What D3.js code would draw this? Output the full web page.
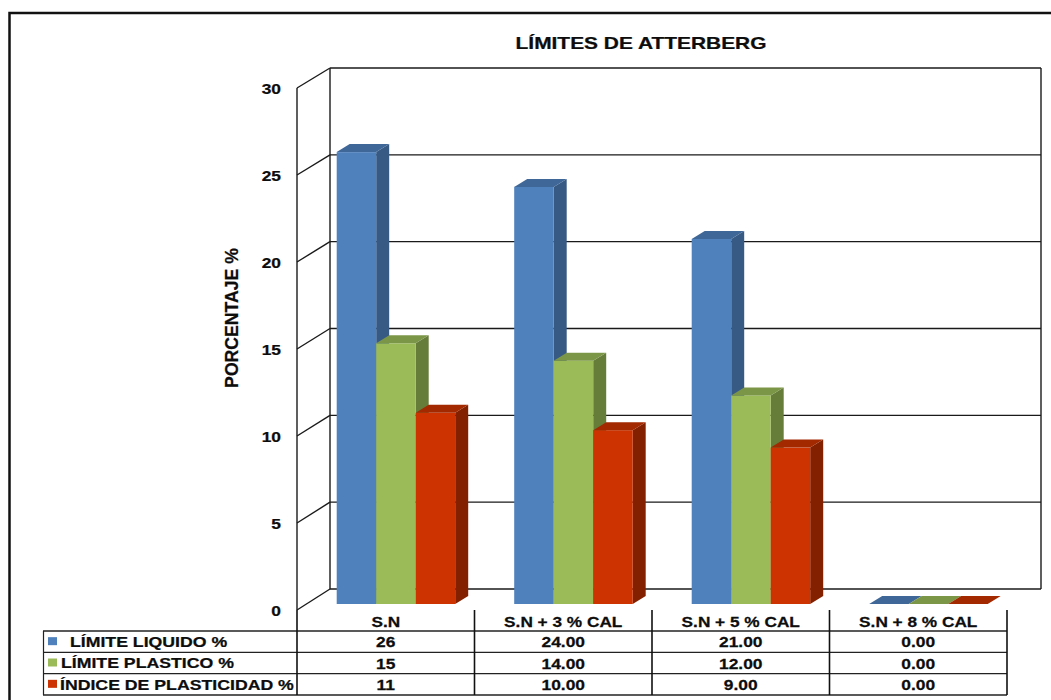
<!DOCTYPE html>
<html>
<head>
<meta charset="utf-8">
<script src="https://cdn.jsdelivr.net/npm/d3@7"></script>
<style>
html,body{margin:0;padding:0;background:#fff;overflow:hidden}
svg{display:block}
text{font-family:"Liberation Sans",Arial,sans-serif;font-weight:bold;fill:#0d0d0d;stroke:#0d0d0d;stroke-width:0.25px}
</style>
</head>
<body>
<svg id="chart" width="1051" height="700"></svg>
<script>
const categories = ["S.N", "S.N + 3 % CAL", "S.N + 5 % CAL", "S.N + 8 % CAL"];
const seriesNames = ["LÍMITE LIQUIDO %", "LÍMITE PLASTICO %", "ÍNDICE DE PLASTICIDAD %"];
const limiteLiquido = [26, 24, 21, 0];
const limitePlastico = [15, 14, 12, 0];
const indicePlasticidad = [11, 10, 9, 0];
const tableText = [
  ["26", "24.00", "21.00", "0.00"],
  ["15", "14.00", "12.00", "0.00"],
  ["11", "10.00", "9.00", "0.00"]
];
const yTicks = [0, 5, 10, 15, 20, 25, 30];
const seriesValues = [limiteLiquido, limitePlastico, indicePlasticidad];

const frontColors = ["#4f81bd", "#9bbb59", "#cc3300"];
const topColors = ["#3f6797", "#7c9647", "#a32900"];
const sideColors = ["#375a85", "#667d3a", "#822000"];

const svg = d3.select("#chart");

// Three parallel value scales: front edge of the side wall, back wall, bar fronts
const yFront = d3.scaleLinear().domain([0, 30]).range([610, 88]);
const yBack = d3.scaleLinear().domain([0, 30]).range([589, 68]);
const yBar = d3.scaleLinear().domain([0, 30]).range([604, 82.6]);

const x0 = d3.scaleBand().domain(categories).range([297, 1007]);
const x1 = d3.scaleBand().domain(d3.range(3)).range([39.7, 158.2]);

const wallLeft = 330, wallRight = 1041, frontLeft = 297;
const barDx = 13, barDy = -8;
const ink = "#1a1a1a";

// The lettering on this chart is set wide, so text is stretched horizontally around its anchor
function wideText(parent, x, y, str, size, stretch, anchor) {
  return parent.append("text")
    .attr("transform", `translate(${x},${y}) scale(${stretch},1)`)
    .attr("text-anchor", anchor || "start")
    .attr("font-size", size)
    .text(str);
}

// Outer frame (open at the bottom and on the right)
svg.append("path").attr("d", "M9.5,700V13H1051").attr("fill", "none")
  .attr("stroke", "#111").attr("stroke-width", 2.5);

wideText(svg, 641, 49, "LÍMITES DE ATTERBERG", 16.6, 1.26, "middle");

// Back wall and side wall
const walls = svg.append("g").attr("fill", "none").attr("stroke", ink).attr("stroke-width", 1.4);
walls.selectAll("line.grid").data(yTicks).join("line").attr("class", "grid")
  .attr("x1", wallLeft).attr("x2", wallRight)
  .attr("y1", d => yBack(d)).attr("y2", d => yBack(d));
walls.selectAll("line.diag").data(yTicks).join("line").attr("class", "diag")
  .attr("x1", frontLeft).attr("x2", wallLeft)
  .attr("y1", d => yFront(d)).attr("y2", d => yBack(d));
walls.append("line").attr("x1", frontLeft).attr("x2", frontLeft).attr("y1", yFront(30)).attr("y2", yFront(0));
walls.append("line").attr("x1", wallLeft).attr("x2", wallLeft).attr("y1", yBack(30)).attr("y2", yBack(0));
walls.append("line").attr("x1", wallRight).attr("x2", wallRight).attr("y1", yBack(30)).attr("y2", yBack(0));

// Value axis labels
yTicks.forEach(t => wideText(svg, 281, yFront(t) + 5.5, String(t), 15.5, 1.12, "end"));

svg.append("text").attr("transform", "translate(237.5,318) rotate(-90) scale(0.97,1)")
  .attr("text-anchor", "middle").attr("font-size", 18.2).text("PORCENTAJE %");

// Bars, drawn left to right so each box overlaps the side of the previous one
const bars = svg.append("g");
categories.forEach((cat, c) => {
  seriesValues.forEach((vals, s) => {
    const l = x0(cat) + x1(s), r = l + x1.bandwidth();
    const top = yBar(vals[c]), base = yBar(0);
    const g = bars.append("g");
    if (vals[c] > 0) {
      g.append("path").attr("fill", sideColors[s])
        .attr("d", `M${r},${top}L${r + barDx},${top + barDy}V${base + barDy}L${r},${base}Z`);
      g.append("rect").attr("fill", frontColors[s])
        .attr("x", l).attr("y", top).attr("width", r - l).attr("height", base - top);
    }
    g.append("path").attr("fill", topColors[s])
      .attr("d", `M${l},${top}L${l + barDx},${top + barDy}H${r + barDx}L${r},${top}Z`);
  });
});

// Data table under the plot
const rowY = d3.scaleBand().domain(d3.range(3)).range([631, 695]);
const tableLeft = 43;
const colEdges = categories.map(c => x0(c)).concat([x0.range()[1]]);
const labelX = [70, 61, 60];
const colCentre = i => x0(categories[i]) + x0.bandwidth() / 2;

const table = svg.append("g");
table.selectAll("line.row").data(d3.range(4)).join("line").attr("class", "row")
  .attr("x1", tableLeft).attr("x2", 1007)
  .attr("y1", d => 631 + d * rowY.bandwidth()).attr("y2", d => 631 + d * rowY.bandwidth())
  .attr("stroke", "#222").attr("stroke-width", 1.3);
table.append("line").attr("x1", tableLeft + 0.5).attr("x2", tableLeft + 0.5).attr("y1", 631).attr("y2", 695)
  .attr("stroke", "#222").attr("stroke-width", 1.2);
table.selectAll("line.col").data(colEdges).join("line").attr("class", "col")
  .attr("x1", d => d).attr("x2", d => d).attr("y1", 610).attr("y2", 695)
  .attr("stroke", "#111").attr("stroke-width", 1.6);

categories.forEach((c, i) => wideText(table, colCentre(i), 627, c, 14.5, 1.19, "middle"));

seriesNames.forEach((name, s) => {
  const yc = rowY(s) + rowY.bandwidth() / 2;
  table.append("rect").attr("x", 48).attr("y", yc - 4.5).attr("width", 9).attr("height", 8)
    .attr("fill", frontColors[s]);
  wideText(table, labelX[s], yc + 5 + (s === 2 ? 0.5 : 0), name, 15, 1.18);
  tableText[s].forEach((d, i) => wideText(table, colCentre(i), yc + 5.5, d, 15, 1.16, "middle"));
});
</script>
</body>
</html>
